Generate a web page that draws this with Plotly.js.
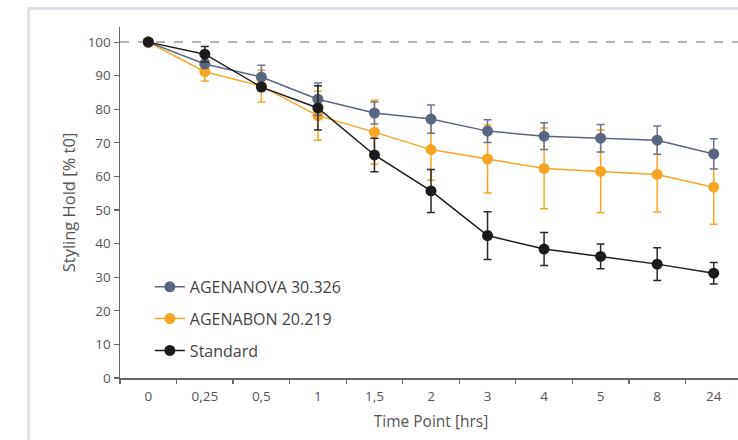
<!DOCTYPE html>
<html>
<head>
<meta charset="utf-8">
<script src="https://cdn.plot.ly/plotly-3.0.1.min.js"></script>
<style>
  html, body { margin: 0; padding: 0; width: 738px; height: 440px; overflow: hidden; background: #fff; }
  #frame { position: absolute; left: 27px; top: 7px; width: 800px; height: 500px;
           border-left: 3px solid #e4e1ee; border-top: 3px solid #e4e1ee; }
  #chart { position: absolute; left: 0; top: 0; }
</style>
</head>
<body>
<div id="frame"></div>
<div id="chart"></div>
<script>
const timePoints = ["0", "0,25", "0,5", "1", "1,5", "2", "3", "4", "5", "8", "24"];

const agenanova    = [100, 93.5, 89.6, 83.0, 78.9, 77.1, 73.5, 72.0, 71.4, 70.8, 66.7];
const agenanovaErr = [0, 1.2, 3.5, 4.8, 3.3, 4.2, 3.4, 4.0, 4.1, 4.2, 4.5];

const agenabon     = [100, 91.2, 86.9, 78.1, 73.2, 68.0, 65.2, 62.4, 61.5, 60.6, 56.8];
const agenabonErr  = [0, 2.8, 4.7, 7.3, 9.5, 9.1, 10.1, 12.0, 12.3, 11.2, 11.0];

const standard     = [100, 96.4, 86.6, 80.4, 66.4, 55.7, 42.4, 38.4, 36.2, 33.9, 31.2];
const standardErr  = [0, 2.3, 1.0, 6.6, 5.0, 6.4, 7.1, 4.9, 3.7, 4.9, 3.2];

const seriesNames = ["AGENANOVA 30.326", "AGENABON 20.219", "Standard"];
const referenceLevel = 100;

function trace(name, y, err, color, errColor, group, rank) {
  return {
    type: "scatter", mode: "lines+markers", name: name,
    x: timePoints, y: y,
    legendgroup: group, legendrank: rank,
    line: { color: color, width: 1.5 },
    marker: { color: color, size: 11 },
    error_y: { type: "data", array: err, visible: true, color: errColor, thickness: 1.5, width: 4 }
  };
}

const data = [
  trace(seriesNames[1], agenabon, agenabonErr, "#f6a623", "#f6a623", "b", 2),
  trace(seriesNames[0], agenanova, agenanovaErr, "#59667f", "#6b7690", "a", 1),
  trace(seriesNames[2], standard, standardErr, "#1c1a1c", "#2a2a2a", "c", 3)
];

const fontFam = "'Open Sans', 'Noto Sans', sans-serif";

const layout = {
  width: 760, height: 440,
  margin: { l: 120, r: 18, t: 27, b: 62 },
  paper_bgcolor: "rgba(0,0,0,0)",
  plot_bgcolor: "rgba(0,0,0,0)",
  font: { family: fontFam, color: "#555" },
  showlegend: true,
  legend: {
    x: 0.048, xanchor: "left", y: 0.308, yanchor: "top",
    font: { size: 16, color: "#444", family: fontFam },
    traceorder: "grouped", tracegroupgap: 8,
    bgcolor: "rgba(0,0,0,0)"
  },
  xaxis: {
    type: "category", range: [-0.5, 10.5],
    tickson: "boundaries", ticks: "outside", ticklen: 4, tickwidth: 1.2, tickcolor: "#666",
    showline: true, linecolor: "#666", linewidth: 1.5,
    showgrid: false, zeroline: false,
    ticklabelstandoff: 5,
    tickfont: { size: 13.5, color: "#555" },
    title: { text: "Time Point [hrs]", font: { size: 15.5, color: "#555" }, standoff: 12 }
  },
  yaxis: {
    range: [0, 104.5], dtick: 10, tick0: 0,
    ticks: "outside", ticklen: 5, tickwidth: 1.2, tickcolor: "#666",
    showline: true, linecolor: "#666", linewidth: 1.5,
    showgrid: false, zeroline: false,
    tickfont: { size: 13.5, color: "#555" },
    title: { text: "Styling Hold [% t0]", font: { size: 16.5, color: "#555" }, standoff: 8 }
  },
  shapes: [{
    type: "line", xref: "paper", yref: "y", x0: 0, x1: 1, y0: referenceLevel, y1: referenceLevel,
    line: { color: "#9a9a9a", width: 1.5, dash: "dash" }, layer: "below"
  }]
};

Plotly.newPlot("chart", data, layout, { displayModeBar: false, staticPlot: true });
</script>
</body>
</html>
